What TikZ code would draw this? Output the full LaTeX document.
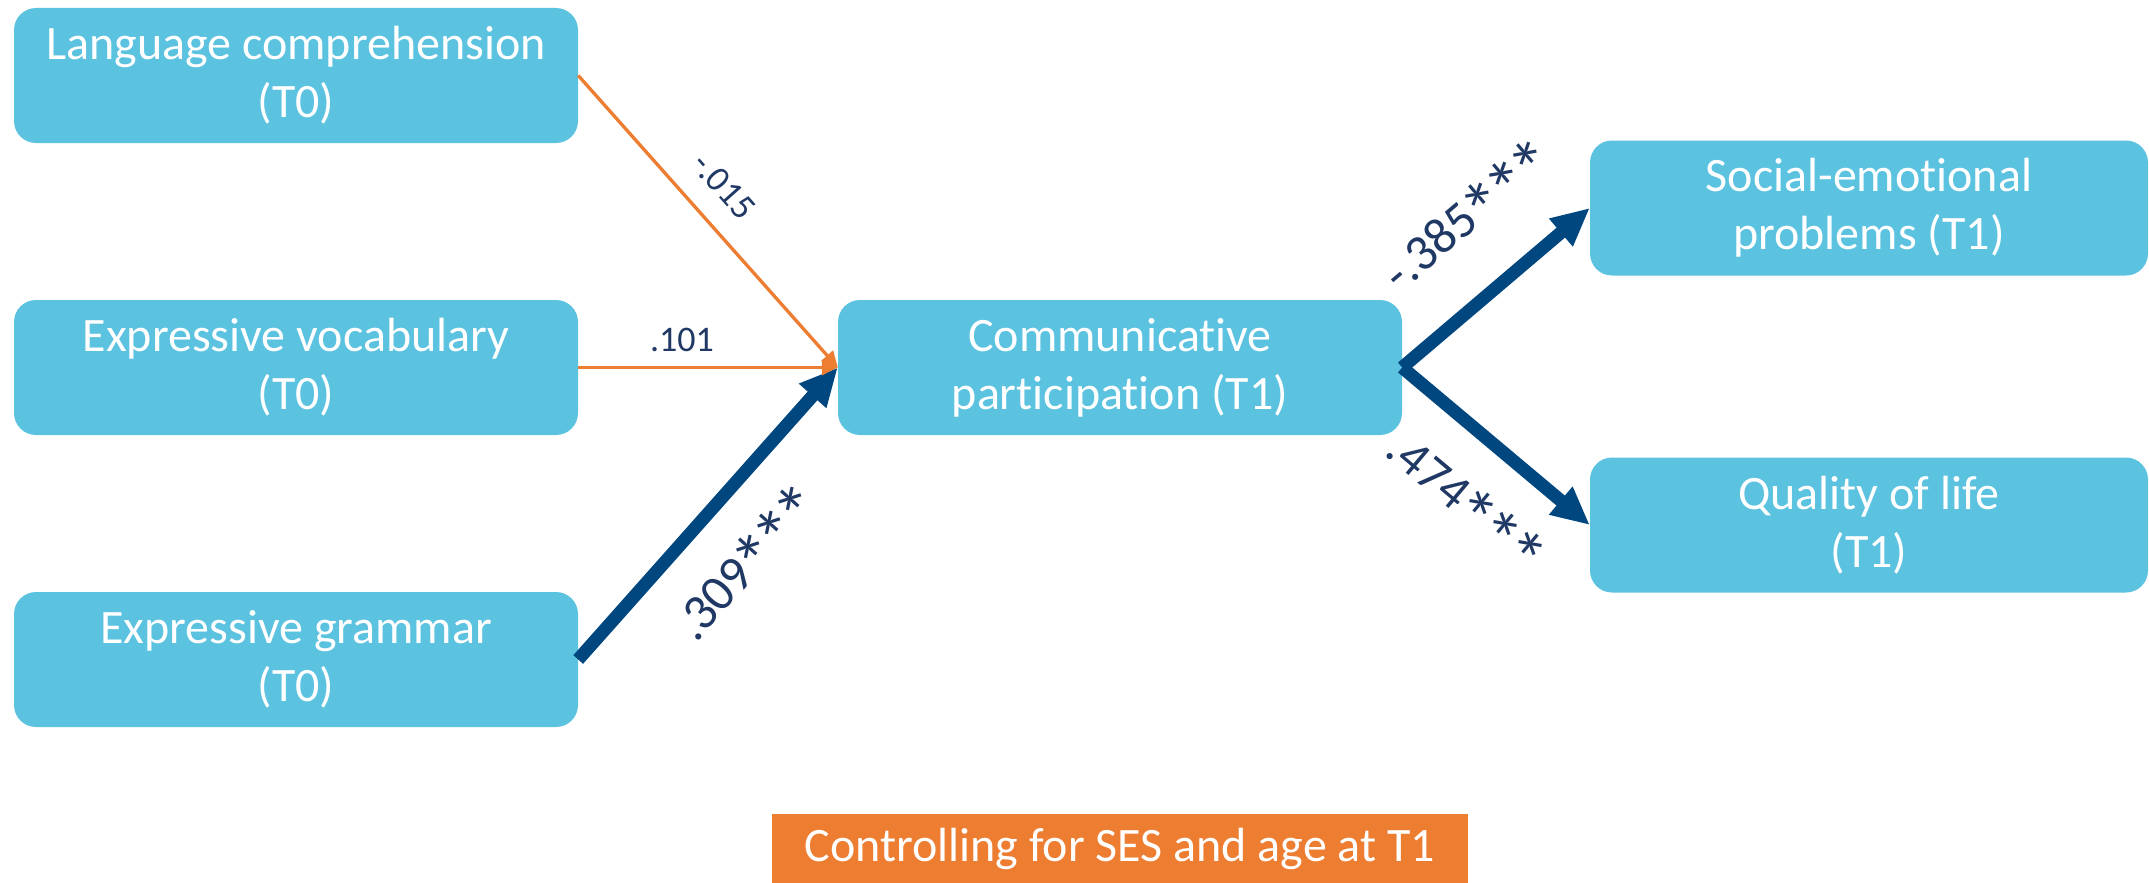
\documentclass[tikz,border=0pt]{standalone}
\usepackage{fontspec}
\setmainfont{Carlito}[Ligatures={NoCommon,NoContextual},RawFeature={-liga;-clig;-calt}]
\usetikzlibrary{arrows.meta}
\definecolor{boxblue}{RGB}{91,194,224}
\definecolor{pathorange}{RGB}{237,125,49}
\definecolor{pathnavy}{RGB}{0,70,127}
\definecolor{labelnavy}{RGB}{31,56,100}
\newcommand{\sigmark}{\kern-0.06em\raisebox{-0.34em}{\scalebox{1.5}{*}}\kern-0.06em}

\begin{document}
\begin{tikzpicture}[x=1pt,y=1pt,node distance=292pt,
		weak/.style={-{Triangle[length=16pt,width=15pt]},draw=pathorange,line width=3.3pt},
		strong/.style={-{Triangle[length=38pt,width=34pt]},draw=pathnavy,line width=13pt},
		small/.style={text=labelnavy,font=\fontsize{36}{43}\selectfont,inner sep=0pt},
		big/.style={text=labelnavy,font=\fontsize{51}{60}\selectfont,inner sep=0pt}]
		\tikzstyle{box}=[fill=boxblue,text=white,rounded corners=22pt,minimum width=564pt,minimum height=135pt,align=center,font=\fontsize{48}{58}\selectfont]
		\useasboundingbox (0,0) rectangle (2149,-883);
		
		\node[box]	(LC)	at (296,-75.5)		{Language comprehension\\(T0)};
		\node[box]	(EV)	[below of=LC]		{Expressive vocabulary\\(T0)};
		\node[box]	(EG)	[below of=EV]		{Expressive grammar\\(T0)};
		\node[box]	(CP)	[right of=EV,node distance=824pt]	{Communicative\\participation (T1)};
		\node[box,minimum width=558pt]	(SE)	at (1869,-208)	{Social-emotional\\problems (T1)};
		\node[box,minimum width=558pt]	(QL)	at (1869,-525)	{Quality of life\\(T1)};
		
		% covariates
		\node[fill=pathorange,text=white,minimum width=696pt,minimum height=69pt,font=\fontsize{48}{58}\selectfont] (ctrl) at (1120,-848.5) {Controlling for SES and age at T1};
		
		\draw[strong] (EG.east) -- (CP.west) node[big,sloped,below=34pt,pos=0.47] {.309\sigmark\sigmark\sigmark};
		\draw[weak] (LC.east) -- (CP.west) node[small,sloped,above=22pt,pos=0.46] {-.015};
		\draw[weak] (EV.east) -- (CP.west) node[small,above=14pt,pos=0.40] {.101};
		
		\draw[strong] (CP.east) -- (SE.west) node[big,sloped,above=34pt,pos=0.6] {-.385\sigmark\sigmark\sigmark};
		\draw[strong] (CP.east) -- (QL.west) node[big,sloped,below=35pt,pos=0.55] {.474\sigmark\sigmark\sigmark};
\end{tikzpicture}
\end{document}
